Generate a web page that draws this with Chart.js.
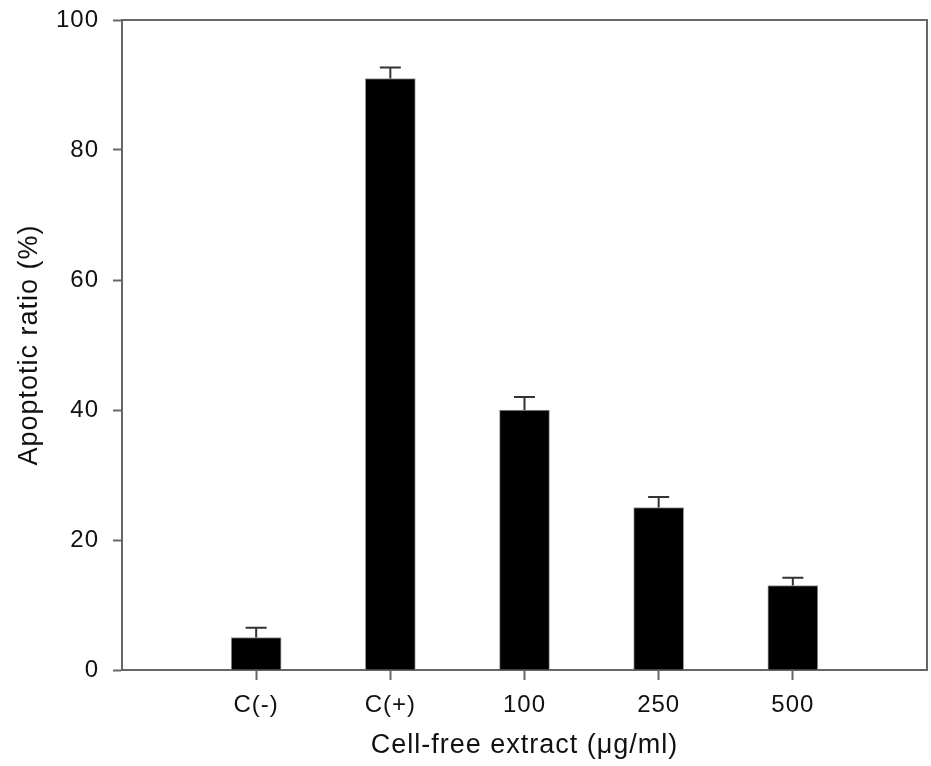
<!DOCTYPE html>
<html>
<head>
<meta charset="utf-8">
<script src="https://cdn.jsdelivr.net/npm/chart.js@4/dist/chart.umd.min.js"></script>
<style>
  html, body { margin: 0; padding: 0; background: #fff; }
  #wrap { width: 931px; height: 766px; }
</style>
</head>
<body>
<div id="wrap"><canvas id="apoptosisChart"></canvas></div>
<script>
const categories = ['C(-)', 'C(+)', '100', '250', '500'];
const ratios = [5, 91, 40, 25, 13];
const errors = [1.5, 1.7, 2, 1.6, 1.2];
const yTicks = [0, 20, 40, 60, 80, 100];

const axisColor = '#666666';

// bars sit at x = 1..5 on a 0..6 linear axis, like the original plot
const points = categories.map(function (c, i) {
    return { x: i + 1, y: ratios[i] };
});

const spacingPlugin = {
    id: 'spacing',
    beforeUpdate: function (chart) { chart.ctx.letterSpacing = '1px'; },
    beforeDraw: function (chart) { chart.ctx.letterSpacing = '1px'; }
};

const errorBarPlugin = {
    id: 'errorBars',
    afterDatasetsDraw: function (chart) {
        const ctx = chart.ctx;
        const yScale = chart.scales.y;
        const meta = chart.getDatasetMeta(0);
        ctx.save();
        ctx.strokeStyle = '#333333';
        ctx.lineWidth = 2;
        meta.data.forEach(function (bar, i) {
            const top = yScale.getPixelForValue(ratios[i] + errors[i]);
            const base = yScale.getPixelForValue(ratios[i]);
            ctx.beginPath();
            ctx.moveTo(bar.x, base);
            ctx.lineTo(bar.x, top);
            ctx.moveTo(bar.x - 10.5, top);
            ctx.lineTo(bar.x + 10.5, top);
            ctx.stroke();
        });
        ctx.restore();
    }
};

const framePlugin = {
    id: 'frame',
    afterDraw: function (chart) {
        const a = chart.chartArea;
        const ctx = chart.ctx;
        ctx.save();
        ctx.strokeStyle = axisColor;
        ctx.lineWidth = 2;
        ctx.beginPath();
        ctx.moveTo(a.left, a.top);
        ctx.lineTo(a.right, a.top);
        ctx.lineTo(a.right, a.bottom);
        ctx.stroke();
        ctx.restore();
    }
};

const config = {
    type: 'bar',
    data: {
        datasets: [{
            label: 'Apoptotic ratio',
            data: points,
            backgroundColor: '#000000',
            borderColor: '#999999',
            borderWidth: 1,
            barThickness: 50
        }]
    },
    options: {
        responsive: true,
        maintainAspectRatio: false,
        animation: false,
        layout: { padding: { top: 20, right: 4, left: 0, bottom: 0 } },
        plugins: {
            legend: { display: false },
            tooltip: { enabled: false }
        },
        scales: {
            x: {
                type: 'linear',
                min: 0,
                max: 6,
                offset: false,
                afterBuildTicks: function (scale) {
                    scale.ticks = categories.map(function (c, i) { return { value: i + 1 }; });
                },
                afterFit: function (scale) { scale.height = 96; },
                grid: {
                    offset: false,
                    drawOnChartArea: false,
                    tickLength: 10,
                    tickColor: axisColor,
                    tickWidth: 2
                },
                border: { color: axisColor, width: 2 },
                ticks: {
                    color: '#111',
                    padding: 11,
                    maxRotation: 0,
                    font: { family: 'Liberation Sans, Arial, sans-serif', size: 24 },
                    callback: function (v) { return categories[v - 1]; }
                },
                title: {
                    display: true,
                    text: 'Cell-free extract (\u03bcg/ml)',
                    color: '#111',
                    padding: { top: 0, bottom: 4 },
                    font: { family: 'Liberation Sans, Arial, sans-serif', size: 27 }
                }
            },
            y: {
                min: 0,
                max: 100,
                afterBuildTicks: function (scale) {
                    scale.ticks = yTicks.map(function (v) { return { value: v }; });
                },
                afterFit: function (scale) {
                    scale.width = 122;
                    scale.paddingTop = 0;
                    scale.paddingBottom = 0;
                },
                grid: {
                    drawOnChartArea: false,
                    tickLength: 9,
                    tickColor: axisColor,
                    tickWidth: 2
                },
                border: { color: axisColor, width: 2 },
                ticks: {
                    color: '#111',
                    padding: 14,
                    font: { family: 'Liberation Sans, Arial, sans-serif', size: 24 }
                },
                title: {
                    display: true,
                    text: 'Apoptotic ratio (%)',
                    color: '#111',
                    padding: { top: 13, bottom: 0 },
                    font: { family: 'Liberation Sans, Arial, sans-serif', size: 27 }
                }
            }
        }
    },
    plugins: [spacingPlugin, errorBarPlugin, framePlugin]
};

const ctx = document.getElementById('apoptosisChart').getContext('2d');
new Chart(ctx, config);
</script>
</body>
</html>
